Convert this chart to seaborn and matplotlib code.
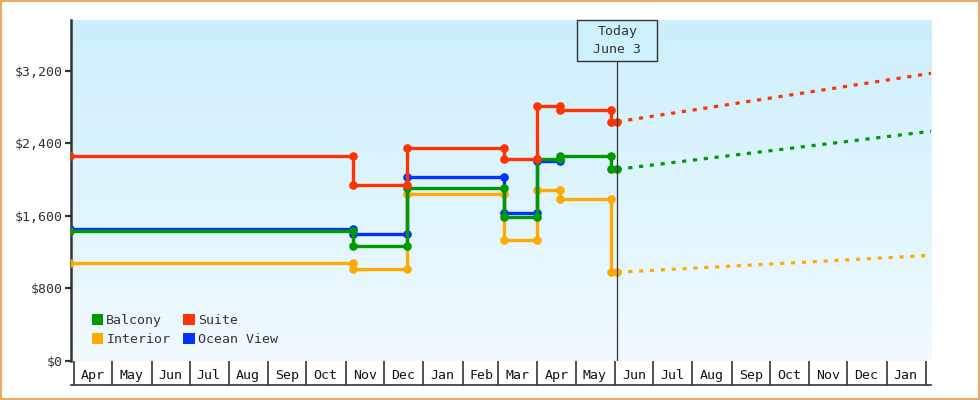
import numpy as np
import pandas as pd
import matplotlib
matplotlib.use('Agg')
import matplotlib.pyplot as plt
import matplotlib.dates as mdates
import matplotlib.transforms as mtransforms
from matplotlib.patches import Patch, Rectangle
import seaborn as sns

# price observations (pairs at each change date -> step look)
obs_dates = ['2022-03-29', '2022-11-07', '2022-11-07', '2022-12-19', '2022-12-19',
             '2023-03-06', '2023-03-06', '2023-04-01', '2023-04-01', '2023-04-19',
             '2023-04-19', '2023-05-29', '2023-05-29', '2023-06-03']
suite = [2259, 2259, 1939, 1939, 2347, 2347, 2223, 2223, 2811, 2811, 2767, 2767, 2638, 2638]
balcony = [1435, 1435, 1270, 1270, 1903, 1903, 1583, 1583, 2223, 2223, 2263, 2263, 2113, 2113]
interior = [1078, 1078, 1012, 1012, 1840, 1840, 1329, 1329, 1881, 1881, 1782, 1782, 976, 976]
ocean_view = [1450, 1450, 1398, 1398, 2024, 2024, 1627, 1627, 2204, 2204]

# forecast (today -> end of range)
fc_dates = ['2023-06-03', '2024-02-05']
fc_suite = [2638, 3172]
fc_balcony = [2113, 2532]
fc_interior = [976, 1163]

today = pd.Timestamp('2023-06-03')
months_start = pd.date_range('2022-04-01', '2024-02-01', freq='MS')
month_mid = pd.date_range('2022-04-01', '2024-01-01', freq='MS') + pd.Timedelta(days=15)

colors = {'Balcony': '#009a00', 'Suite': '#ff3300', 'Interior': '#ffaa00', 'Ocean View': '#0033ff'}
ink = '#333333'
plt.rcParams['font.family'] = ['DejaVu Sans Mono']

rows = []
for name, vals in [('Interior', interior), ('Ocean View', ocean_view),
                   ('Balcony', balcony), ('Suite', suite)]:
    for d, v in zip(obs_dates, vals):
        rows.append({'date': pd.Timestamp(d), 'price': v, 'cabin': name})
df = pd.DataFrame(rows)

fig = plt.figure(figsize=(9.8, 4), dpi=100)
ax = fig.add_axes([71 / 980, 39.3 / 400, 860 / 980, 340.7 / 400])

# gradient background
grad = np.linspace(0, 1, 256).reshape(-1, 1)
top = np.array([204, 239, 252]) / 255
bot = np.array([241, 250, 255]) / 255
img = top[None, None, :] * (1 - grad[:, :, None]) + bot[None, None, :] * grad[:, :, None]
ax.imshow(img, extent=[0, 1, 0, 1], transform=ax.transAxes, aspect='auto', zorder=0)

for name in ['Interior', 'Ocean View', 'Balcony', 'Suite']:
    sub = df[df['cabin'] == name]
    sns.lineplot(data=sub, x='date', y='price', ax=ax, sort=False, estimator=None,
                 color=colors[name], linewidth=2.4, marker='o', markersize=6.2,
                 markeredgewidth=0, zorder=3)

for name, vals in [('Interior', fc_interior), ('Balcony', fc_balcony), ('Suite', fc_suite)]:
    fc = pd.DataFrame({'date': pd.to_datetime(fc_dates), 'price': vals})
    sns.lineplot(data=fc, x='date', y='price', ax=ax, sort=False, estimator=None,
                 color=colors[name], linewidth=2.3, linestyle=(0, (1.3, 2.1)), zorder=3)

ax.set_xlim(pd.Timestamp('2022-03-29 12:00'), pd.Timestamp('2024-02-05'))
ax.set_ylim(0, 3760)
ax.set_xlabel('')
ax.set_ylabel('')

# y axis
ax.set_yticks([0, 800, 1600, 2400, 3200])
ax.set_yticklabels(['$0', '$800', '$1,600', '$2,400', '$3,200'])
ax.tick_params(axis='y', length=4, width=1.6, color=ink, labelcolor=ink, labelsize=9.5, pad=2)
for s in ['top', 'right', 'bottom']:
    ax.spines[s].set_visible(False)
ax.spines['left'].set_linewidth(1.8)
ax.spines['left'].set_color(ink)

# x axis month boxes
ax.set_xticks(month_mid)
ax.set_xticklabels([d.strftime('%b') for d in month_mid])
ax.set_xticks(months_start, minor=True)
ax.tick_params(axis='x', which='major', length=0, pad=6, labelsize=9.5, labelcolor='#111111')
ax.tick_params(axis='x', which='minor', length=17.5, width=1.2, color=ink, direction='out')
ax.plot([0, 1], [-24.5 / 340.7, -24.5 / 340.7], transform=ax.transAxes, color=ink,
        lw=1.2, clip_on=False)

# today marker
tx = mdates.date2num(today)
bt = mtransforms.blended_transform_factory(ax.transData, ax.transAxes)
bh = 40.7 / 340.7
ax.plot([tx, tx], [0, 1 - bh], transform=bt, color=ink, lw=0.9, zorder=4)
ax.add_patch(Rectangle((tx - 31.5, 1 - bh), 63, bh, transform=bt, facecolor='#cdf0fd',
                       edgecolor=ink, lw=1, clip_on=False, zorder=5))
ax.text(tx, 1 - bh / 2, 'Today\nJune 3', transform=bt, ha='center', va='center',
        fontsize=9.5, color=ink, linespacing=1.55, zorder=6)

# legend
order = ['Balcony', 'Interior', 'Suite', 'Ocean View']
handles = [Patch(facecolor=colors[n], edgecolor='none', label=n) for n in order]
ax.legend(handles=handles, loc='lower left', bbox_to_anchor=(0.018, 0.028), ncol=2,
          frameon=False, fontsize=9.5, handlelength=0.85, handleheight=0.85,
          handletextpad=0.25, columnspacing=1.0, labelspacing=0.45, borderaxespad=0,
          labelcolor=ink)

# orange frame round the figure
fig.patches.append(Rectangle((0.001, 0.002), 0.998, 0.996, transform=fig.transFigure,
                             fill=False, edgecolor='#eeaa66', lw=1.5))

fig.savefig('out.png', dpi=100)
